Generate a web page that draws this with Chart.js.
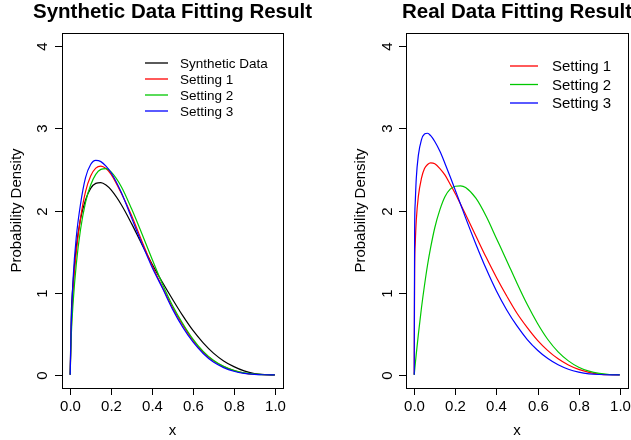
<!DOCTYPE html>
<html>
<head>
<meta charset="utf-8">
<script src="https://cdn.jsdelivr.net/npm/chart.js@4.4.0/dist/chart.umd.min.js"></script>
<style>
    html, body { margin: 0; padding: 0; background: #fff; }
    #wrap { position: relative; width: 631px; height: 440px; }
    .panel { position: absolute; top: 0; height: 440px; }
</style>
</head>
<body>
<div id="wrap">
    <div class="panel" style="left:0;width:315px"><canvas id="synthChart" width="315" height="440"></canvas></div>
    <div class="panel" style="left:315px;width:316px"><canvas id="realChart" width="316" height="440"></canvas></div>
</div>
<script>
// 축 눈금
const xTicks = [0, 0.2, 0.4, 0.6, 0.8, 1.0];
const xTickLabels = ['0.0', '0.2', '0.4', '0.6', '0.8', '1.0'];
const yTicks = [0, 1, 2, 3, 4];
const yTickLabels = ['0', '1', '2', '3', '4'];

// 왼쪽: 합성 데이터
const synthX = [0, 0.005, 0.015, 0.03, 0.05, 0.075, 0.1, 0.125, 0.15, 0.175, 0.2, 0.25, 0.3, 0.35, 0.4, 0.45, 0.5, 0.55, 0.6, 0.65, 0.7, 0.75, 0.8, 0.85, 0.9, 0.95, 1];
const synthTruth = [0, 0.69, 1.15, 1.56, 1.89, 2.13, 2.27, 2.33, 2.34, 2.31, 2.25, 2.07, 1.84, 1.59, 1.35, 1.13, 0.92, 0.72, 0.54, 0.39, 0.265, 0.17, 0.10, 0.048, 0.016, 0.003, 0];
const synthSetting1 = [0, 0.52, 1.05, 1.50, 1.90, 2.23, 2.42, 2.515, 2.54, 2.51, 2.44, 2.21, 1.94, 1.63, 1.33, 1.07, 0.82, 0.61, 0.42, 0.275, 0.17, 0.10, 0.052, 0.022, 0.007, 0.001, 0];
const synthSetting2 = [0, 0.46, 0.90, 1.35, 1.76, 2.10, 2.31, 2.44, 2.50, 2.51, 2.47, 2.29, 2.02, 1.72, 1.41, 1.11, 0.845, 0.625, 0.435, 0.285, 0.177, 0.103, 0.054, 0.023, 0.008, 0.001, 0];
const synthSetting3 = [0, 0.60, 1.20, 1.68, 2.07, 2.40, 2.56, 2.61, 2.595, 2.54, 2.46, 2.22, 1.91, 1.60, 1.31, 1.06, 0.80, 0.58, 0.40, 0.26, 0.155, 0.088, 0.044, 0.018, 0.005, 0.001, 0];

// 오른쪽: 실제 데이터
const realX = [0, 0.002, 0.005, 0.01, 0.02, 0.035, 0.05, 0.065, 0.08, 0.1, 0.125, 0.15, 0.175, 0.2, 0.225, 0.25, 0.3, 0.35, 0.4, 0.45, 0.5, 0.55, 0.6, 0.65, 0.7, 0.75, 0.8, 0.85, 0.9, 0.95, 1];
const realSetting1 = [0, 1.28, 1.60, 1.88, 2.17, 2.39, 2.51, 2.56, 2.58, 2.57, 2.51, 2.43, 2.32, 2.205, 2.08, 1.95, 1.69, 1.43, 1.185, 0.96, 0.75, 0.575, 0.42, 0.295, 0.195, 0.12, 0.066, 0.03, 0.01, 0.0015, 0];
const realSetting2 = [0, 0.053, 0.13, 0.255, 0.49, 0.81, 1.09, 1.34, 1.55, 1.79, 2.01, 2.17, 2.26, 2.295, 2.30, 2.28, 2.15, 1.93, 1.66, 1.39, 1.115, 0.855, 0.625, 0.43, 0.28, 0.17, 0.093, 0.045, 0.017, 0.004, 0];
const realSetting3 = [0, 1.75, 2.10, 2.39, 2.67, 2.86, 2.93, 2.94, 2.91, 2.84, 2.72, 2.57, 2.41, 2.245, 2.08, 1.91, 1.59, 1.29, 1.02, 0.79, 0.595, 0.43, 0.30, 0.198, 0.122, 0.068, 0.034, 0.013, 0.004, 0.0004, 0];

const FONT = '"Liberation Sans", Arial, Helvetica, sans-serif';

// R 스타일 축/제목/범례
const rAxesPlugin = {
    id: 'rAxes',
    afterDraw(chart) {
        const cfg = chart.options.plugins.rAxes;
        const ctx = chart.ctx;
        const area = chart.chartArea;
        const xScale = chart.scales.x;
        const yScale = chart.scales.y;

        ctx.save();
        ctx.strokeStyle = '#000';
        ctx.fillStyle = '#000';
        ctx.lineWidth = 1;

        // 박스
        ctx.strokeRect(Math.round(area.left) + 0.5, Math.round(area.top) + 0.5,
            Math.round(area.right - area.left), Math.round(area.bottom - area.top));

        // x축
        ctx.font = `15px ${FONT}`;
        ctx.textAlign = 'center';
        ctx.textBaseline = 'alphabetic';
        xTicks.forEach((v, i) => {
            const px = Math.round(xScale.getPixelForValue(v)) + 0.5;
            ctx.beginPath();
            ctx.moveTo(px, area.bottom);
            ctx.lineTo(px, area.bottom + 7);
            ctx.stroke();
            ctx.fillText(xTickLabels[i], px, 410.5);
        });
        const midX = (area.left + area.right) / 2;
        ctx.fillText('x', midX, 435);

        // y축 (세로 글자)
        yTicks.forEach((v, i) => {
            const py = Math.round(yScale.getPixelForValue(v)) + 0.5;
            ctx.beginPath();
            ctx.moveTo(area.left - 7, py);
            ctx.lineTo(area.left, py);
            ctx.stroke();
            ctx.save();
            ctx.translate(cfg.yTickBase, py);
            ctx.rotate(-Math.PI / 2);
            ctx.fillText(yTickLabels[i], 0, 0);
            ctx.restore();
        });
        ctx.save();
        ctx.translate(cfg.yTitleBase, (area.top + area.bottom) / 2);
        ctx.rotate(-Math.PI / 2);
        ctx.fillText('Probability Density', 0, 0);
        ctx.restore();

        // 제목
        ctx.font = `bold 20.5px ${FONT}`;
        ctx.fillText(cfg.title, midX, 17.5);

        // 범례
        const lg = cfg.legend;
        ctx.font = `${lg.fontSize}px ${FONT}`;
        ctx.textAlign = 'left';
        ctx.textBaseline = 'middle';
        lg.items.forEach((item, i) => {
            const y = lg.y0 + i * lg.dy;
            ctx.strokeStyle = item.color;
            ctx.lineWidth = 1.3;
            ctx.beginPath();
            ctx.moveTo(lg.x0, y);
            ctx.lineTo(lg.x1, y);
            ctx.stroke();
            ctx.fillStyle = '#000';
            ctx.fillText(item.label, lg.textX, y + 1);
        });
        ctx.restore();
    }
};

function buildChart(canvasId, xs, series, opts) {
    return new Chart(document.getElementById(canvasId), {
        type: 'scatter',
        data: {
            datasets: series.map((s, i) => ({
                label: s.label,
                data: xs.map((x, j) => ({ x: x, y: s.values[j] })),
                showLine: true,
                borderColor: s.color,
                backgroundColor: s.color,
                borderWidth: 1.2,
                pointRadius: 0,
                cubicInterpolationMode: 'monotone',
                order: series.length - i
            }))
        },
        options: {
            responsive: false,
            animation: false,
            devicePixelRatio: 1,
            layout: { padding: opts.padding },
            scales: {
                x: { type: 'linear', min: -0.04, max: 1.04, display: false },
                y: { type: 'linear', min: -0.16, max: 4.16, display: false }
            },
            plugins: {
                legend: { display: false },
                tooltip: { enabled: false },
                rAxes: opts
            }
        },
        plugins: [rAxesPlugin]
    });
}

const RED = '#FF0000';
const GREEN = '#00C800';
const BLUE = '#0000FF';

buildChart('synthChart', synthX, [
    { label: 'Synthetic Data', values: synthTruth, color: '#000000' },
    { label: 'Setting 1', values: synthSetting1, color: RED },
    { label: 'Setting 2', values: synthSetting2, color: GREEN },
    { label: 'Setting 3', values: synthSetting3, color: BLUE }
], {
    title: 'Synthetic Data Fitting Result',
    padding: { left: 62, right: 32, top: 33, bottom: 52 },
    yTickBase: 47,
    yTitleBase: 21,
    legend: {
        x0: 145, x1: 168, textX: 180, y0: 63, dy: 16, fontSize: 13.5,
        items: [
            { label: 'Synthetic Data', color: '#000000' },
            { label: 'Setting 1', color: RED },
            { label: 'Setting 2', color: GREEN },
            { label: 'Setting 3', color: BLUE }
        ]
    }
});

buildChart('realChart', realX, [
    { label: 'Setting 1', values: realSetting1, color: RED },
    { label: 'Setting 2', values: realSetting2, color: GREEN },
    { label: 'Setting 3', values: realSetting3, color: BLUE }
], {
    title: 'Real Data Fitting Result',
    padding: { left: 91, right: 3, top: 33, bottom: 52 },
    yTickBase: 77,
    yTitleBase: 50,
    legend: {
        x0: 195, x1: 223, textX: 237, y0: 66, dy: 18.5, fontSize: 15,
        items: [
            { label: 'Setting 1', color: RED },
            { label: 'Setting 2', color: GREEN },
            { label: 'Setting 3', color: BLUE }
        ]
    }
});
</script>
</body>
</html>
